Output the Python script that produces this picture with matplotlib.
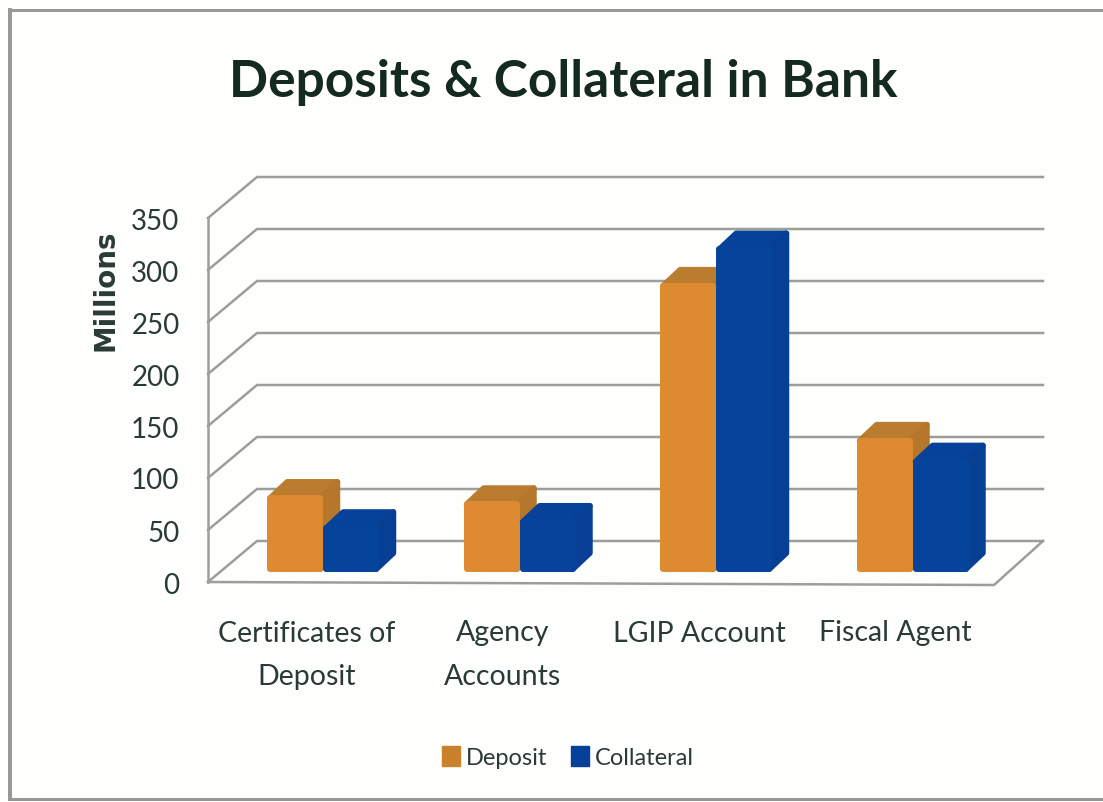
import matplotlib
matplotlib.use("Agg")
import matplotlib.pyplot as plt
from matplotlib.patches import Patch, Polygon

categories = ["Certificates of\nDeposit", "Agency\nAccounts", "LGIP Account", "Fiscal Agent"]
deposit = [74, 68, 278, 129]
collateral = [45, 51, 313, 109]
y_ticks = [0, 50, 100, 150, 200, 250, 300, 350]

W, H = 1103, 803
PLOT_L, PLOT_R = 208, 994
PLOT_T, PLOT_B = 219, 583

figure = plt.figure(figsize=(W / 100, H / 100), dpi=100, facecolor="#fefefd")
axis = figure.add_axes([PLOT_L / W, 1 - PLOT_B / H, (PLOT_R - PLOT_L) / W, (PLOT_B - PLOT_T) / H])
axis.set_xlim(0, 4)
axis.set_ylim(0, 350)
axis.patch.set_visible(False)
for spine in axis.spines.values():
    spine.set_visible(False)

# pixel sizes in data units, for the fake 3D offsets
px_x = 4 / (PLOT_R - PLOT_L)
px_y = 350 / (PLOT_B - PLOT_T)
wall_dx, wall_dy = 49 * px_x, 41 * px_y
bar_dx, bar_dy = 17 * px_x, 10 * px_y
depth_dx, depth_dy = 17 * px_x, 16 * px_y
bar_w = 56 * px_x

GRID = "#9c9e9c"
TEXT = "#2a3a36"

# back wall and side wall gridlines
for value in y_ticks:
    axis.plot([0, wall_dx, 4 + wall_dx], [value, value + wall_dy, value + wall_dy],
              color=GRID, lw=1.8, clip_on=False, zorder=1)
axis.plot([0, 0], [0, 350], color=GRID, lw=1.8, clip_on=False, zorder=1)
axis.plot([0, 4, 4 + wall_dx], [0, -3 * px_y, wall_dy], color=GRID, lw=1.8, clip_on=False, zorder=1)


def draw_bar(left, value, front, top, side, zorder):
    inset = 3
    x0, x1 = left + inset * px_x, left + bar_w - inset * px_x
    y0, y1 = bar_dy + inset * px_y, bar_dy + value - inset * px_y
    faces = [
        ([(x0, y1), (x1, y1), (x1 + depth_dx, y1 + depth_dy), (x0 + depth_dx, y1 + depth_dy)], top),
        ([(x1, y0), (x1 + depth_dx, y0 + depth_dy), (x1 + depth_dx, y1 + depth_dy), (x1, y1)], side),
        ([(x0, y0), (x1, y0), (x1, y1), (x0, y1)], front),
    ]
    for points, colour in faces:
        axis.add_patch(Polygon(points, closed=True, facecolor=colour, edgecolor=colour, lw=4.3,
                               joinstyle="round", clip_on=False, zorder=zorder))


for i in range(4):
    centre = i + 0.5 + bar_dx
    draw_bar(centre - bar_w, deposit[i], "#de8a30", "#ba7c2e", "#b5772c", 3)
    draw_bar(centre, collateral[i], "#06449b", "#06429a", "#063f93", 4)

axis.set_yticks(y_ticks)
axis.set_yticklabels(y_ticks, fontname="Lato", fontsize=20, color=TEXT)
axis.set_xticks([0.5, 1.5, 2.5, 3.5])
axis.set_xticklabels(categories, fontname="Lato", fontsize=20.5, color=TEXT, linespacing=1.85)
axis.tick_params(axis="y", length=0, pad=20.5)
axis.tick_params(axis="x", length=0, pad=27)

axis.set_ylabel("Millions", fontname="DejaVu Sans", fontweight="bold", fontsize=20, color=TEXT)
axis.yaxis.set_label_coords((119 - PLOT_L) / (PLOT_R - PLOT_L), (PLOT_B - 290) / (PLOT_B - PLOT_T))

figure.text(563 / W, 1 - 82 / H, "Deposits & Collateral in Bank", fontname="Lato", fontweight="bold",
            fontsize=37, color="#14291f", ha="center", va="center")

handles = [Patch(facecolor="#c9812a", edgecolor="#c9812a", label="Deposit"),
           Patch(facecolor="#06409a", edgecolor="#06409a", label="Collateral")]
figure.legend(handles=handles, loc="center", bbox_to_anchor=(568 / W, 1 - 758 / H), ncol=2,
              frameon=False, prop={"family": "Lato", "size": 17}, labelcolor=TEXT,
              handlelength=0.75, handleheight=0.9, handletextpad=0.25, columnspacing=1.0)

# outer chart frame, left, top and bottom only
for xs, ys, width in [([10, 10], [11, 800], 4), ([10, W], [11, 11], 3), ([10, W], [800, 800], 3)]:
    figure.add_artist(plt.Line2D([x / W for x in xs], [1 - y / H for y in ys], color="#979997", lw=width * 0.72,
                                 transform=figure.transFigure))

plt.savefig("out.png", dpi=100)
